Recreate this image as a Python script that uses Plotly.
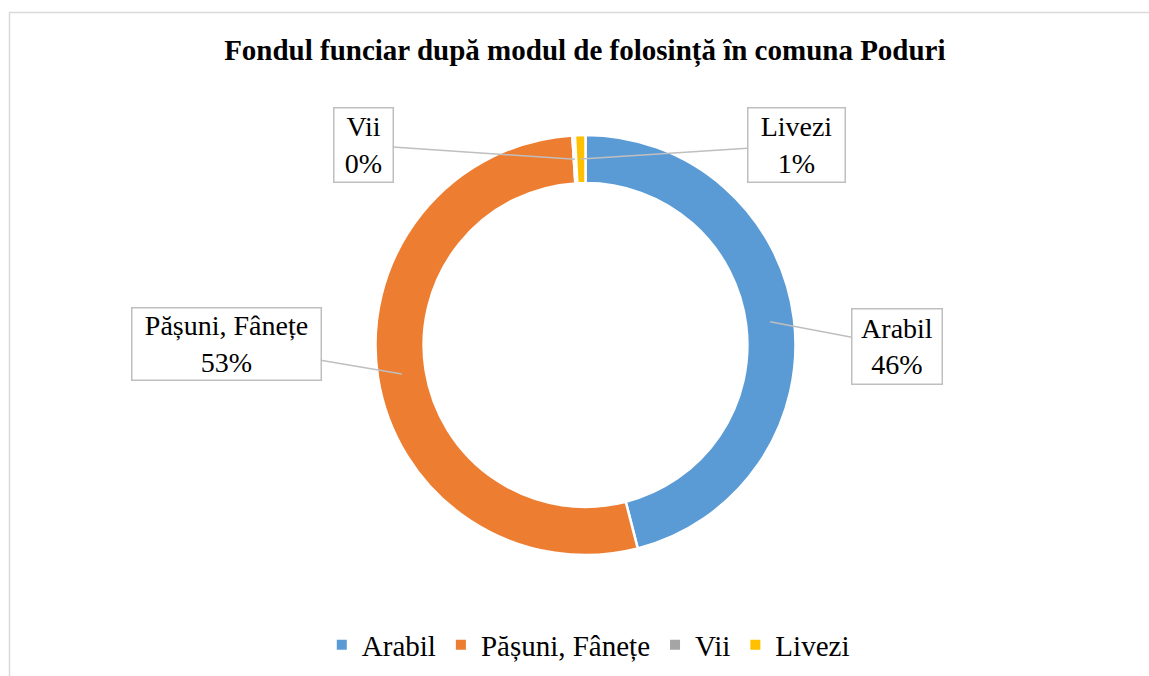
import math
import plotly.graph_objects as go

# ---- data ----
categories = ["Arabil", "Pășuni, Fânețe", "Vii", "Livezi"]
values = [46.0, 53.0, 0.2, 0.8]
colors = ["#5B9BD5", "#ED7D31", "#A5A5A5", "#FFC000"]
title_text = "Fondul funciar după modul de folosință în comuna Poduri"

# ---- layout constants (pixels) ----
W, H = 1149, 676
CX, CY, R = 585.5, 345, 210
HOLE = 0.771
FONT = "Liberation Serif, Times New Roman, serif"

# label boxes: centre x, centre y, width, height (pixels)
boxes = [
    (897, 346, 92, 77),
    (226, 344, 191, 74),
    (363, 145, 61, 76),
    (796, 145, 99, 76),
]

def px(x):
    return x / W

def py(y):
    return 1 - y / H

fig = go.Figure(go.Pie(
    labels=categories,
    values=values,
    sort=False,
    direction="clockwise",
    rotation=0,
    hole=HOLE,
    marker=dict(colors=colors, line=dict(color="white", width=2.5)),
    textinfo="none",
    hoverinfo="label+percent",
    domain=dict(x=[px(CX - R), px(CX + R)], y=[py(CY + R), py(CY - R)]),
))

total = sum(values)
cum = 0.0
rmid = R * (1 + HOLE) / 2
annotations = []
for cat, v, (bx, by, bw, bh) in zip(categories, values, boxes):
    mid = (cum + v / 2) / total * 2 * math.pi
    cum += v
    tx = CX + rmid * math.sin(mid)
    ty = CY - rmid * math.cos(mid)
    pct = round(v / total * 100)
    annotations.append(dict(
        x=px(tx), y=py(ty), xref="paper", yref="paper",
        text=f"{cat}<br>{pct}%",
        showarrow=True, arrowhead=0, arrowwidth=1.5, arrowcolor="#BFBFBF",
        ax=bx - tx, ay=by - ty, axref="pixel", ayref="pixel",
        standoff=0,
        font=dict(family=FONT, size=28, color="#000000"),
        bgcolor="white", bordercolor="#BFBFBF", borderwidth=1.5, borderpad=0,
        width=bw - 3, height=bh - 3, align="center", valign="middle",
    ))

fig.update_layout(
    width=W, height=H,
    margin=dict(l=0, r=0, t=0, b=0),
    paper_bgcolor="white",
    title=dict(text=f"<b>{title_text}</b>", x=0.509, xanchor="center",
               y=py(50), yanchor="middle",
               font=dict(family=FONT, size=29, color="#000000")),
    annotations=annotations,
    legend=dict(orientation="h", x=0.512, xanchor="center", y=py(645), yanchor="middle",
                font=dict(family=FONT, size=29, color="#000000"),
                itemsizing="constant", traceorder="normal"),
    showlegend=True,
    shapes=[dict(type="rect", xref="paper", yref="paper",
                 x0=px(9.5), x1=1.02, y0=-0.02, y1=py(12.5),
                 line=dict(color="#D9D9D9", width=1.5), fillcolor="rgba(0,0,0,0)",
                 layer="below")],
)

fig.write_html("out.html", config={"displayModeBar": False})
with open("out.html", "r", encoding="utf-8") as f:
    html = f.read()
html = html.replace("<head>", "<head><style>body{margin:0;overflow:hidden}</style>", 1)
with open("out.html", "w", encoding="utf-8") as f:
    f.write(html)
